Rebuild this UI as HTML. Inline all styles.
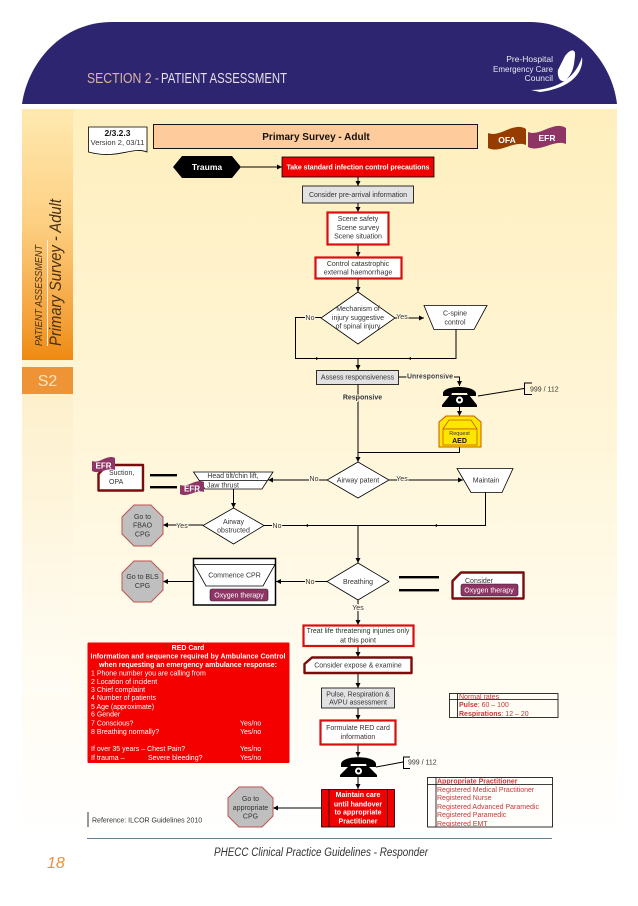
<!DOCTYPE html>
<html>
<head>
<meta charset="utf-8">
<style>
html,body{margin:0;padding:0;background:#fff;}
svg{display:block;}
text{font-family:"Liberation Sans",sans-serif;font-size:7px;fill:#333;}
.m{text-anchor:middle;}
.b{font-weight:bold;}
.w{fill:#fff;}
.k{fill:#111;}
.r{fill:#c8383c;}
.lb{paint-order:stroke;stroke:#fff8e2;stroke-width:2px;fill:#333;text-anchor:middle;}
.ln{fill:none;stroke:#000;stroke-width:1;}
.nd{fill:#fff;stroke:#000;stroke-width:.8;}
.gr{fill:#e2e2e2;stroke:#000;stroke-width:.8;}
.rb{fill:#fff;stroke:#d80f0f;stroke-width:2.2;}
.dr{fill:#fff;stroke:#7a0c0c;stroke-width:2.4;stroke-linejoin:round;}
.oc{fill:#bfbfbf;stroke:#c0504d;stroke-width:1;}
.sk{font-style:italic;}
</style>
</head>
<body>
<svg width="638" height="906" viewBox="0 0 638 906" xmlns="http://www.w3.org/2000/svg">
<defs>
<linearGradient id="bg" x1="0" y1="0" x2="0" y2="1">
<stop offset="0" stop-color="#ffefbe"/>
<stop offset=".45" stop-color="#fff6d9"/>
<stop offset=".8" stop-color="#fffcf2"/>
<stop offset="1" stop-color="#ffffff"/>
</linearGradient>
<linearGradient id="sb" x1="0" y1="0" x2="0" y2="1">
<stop offset="0" stop-color="#ffe9b0"/>
<stop offset=".45" stop-color="#fdd083"/>
<stop offset=".85" stop-color="#f4a038"/>
<stop offset="1" stop-color="#ee8a10"/>
</linearGradient>
<linearGradient id="sb2" x1="0" y1="0" x2="0" y2="1">
<stop offset="0" stop-color="#fdf0cc"/>
<stop offset="1" stop-color="#fffdf6"/>
</linearGradient>
<marker id="a" markerWidth="6" markerHeight="6" refX="5" refY="2.5" orient="auto" markerUnits="userSpaceOnUse">
<path d="M0,0 L5,2.5 L0,5 Z" fill="#000"/>
</marker>
</defs>

<rect width="638" height="906" fill="#fff"/>
<!-- body -->
<rect x="22" y="109" width="595" height="730" fill="url(#bg)"/>
<rect x="22" y="109" width="51" height="251" fill="url(#sb)"/>
<rect x="22" y="394" width="51" height="300" fill="url(#sb2)"/>
<rect x="22" y="367" width="51" height="27" fill="#ee9436"/>
<text x="47.5" y="386" class="m" style="font-size:16px;fill:#fde6c4;">S2</text>

<!-- header -->
<path d="M22,104 C28,62 62,22 112,22 L530,22 C578,22 612,62 617,104 Z" fill="#2e2570"/>
<text x="87" y="83" textLength="72" lengthAdjust="spacingAndGlyphs" style="font-size:15px;fill:#dcb4a8;">SECTION 2 -</text>
<text x="161" y="83" textLength="126" lengthAdjust="spacingAndGlyphs" style="font-size:15px;fill:#e6e0ea;">PATIENT ASSESSMENT</text>
<text x="553" y="62" text-anchor="end" style="font-size:8.5px;fill:#e8e8f0;">Pre-Hospital</text>
<text x="493" y="72" textLength="60" lengthAdjust="spacingAndGlyphs" style="font-size:8.5px;fill:#e8e8f0;">Emergency Care</text>
<text x="553" y="81" text-anchor="end" style="font-size:8.5px;fill:#e8e8f0;">Council</text>
<path d="M531,90 C552,90 574,82 582,57 C584,72 572,88 540,92 Z M565,56 C570,49 576,48 575,56 C574,64 574,72 566,80 C560,84 557,76 558,70 C560,66 562,62 565,56 Z" fill="#fff"/>

<!-- sidebar text -->
<text transform="translate(42,346) rotate(-90)" textLength="101" lengthAdjust="spacingAndGlyphs" style="font-size:10.5px;fill:#4a3010;font-style:italic;">PATIENT ASSESSMENT</text>
<line x1="47.5" y1="240" x2="47.5" y2="346" stroke="#fff4dc" stroke-width="1"/>
<text transform="translate(61,346) rotate(-90)" textLength="147" lengthAdjust="spacingAndGlyphs" style="font-size:17px;fill:#4a3010;font-style:italic;">Primary Survey - Adult</text>

<!-- top row -->
<path d="M88.500,127 H147 V152 C132,146 118,160 88.500,152 Z" class="nd"/>
<text x="117.500" y="136" class="m b k" style="font-size:8.5px;">2/3.2.3</text>
<text x="117.500" y="145" class="m" style="font-size:7.500px;">Version 2, 03/11</text>
<rect x="153.500" y="124.500" width="324" height="24" fill="#fdcb9c" stroke="#000" stroke-width=".9"/>
<text x="316" y="140" class="m b k" style="font-size:10px;">Primary Survey - Adult</text>
<path d="M488,133 C500,138 514,121 526,129 V145 C514,140 500,154 488,148 Z" fill="#963c00"/>
<text x="507" y="143" class="m b w" style="font-size:8.5px;">OFA</text>
<path d="M528,132 C540,137 554,120 566,128 V144 C554,139 540,153 528,147 Z" fill="#8f3565"/>
<text x="547" y="141" class="m b w" style="font-size:8.5px;">EFR</text>

<!-- connectors -->
<g class="ln">
<path d="M241,167 H282" marker-end="url(#a)"/>
<path d="M358,177 V186" marker-end="url(#a)"/>
<path d="M358,203 V212" marker-end="url(#a)"/>
<path d="M358,245 V257" marker-end="url(#a)"/>
<path d="M358,279 V292" marker-end="url(#a)"/>
<path d="M395,318 H424" marker-end="url(#a)"/>
<path d="M321,317.500 H295.500 V358.500 H456 V329"/>
<path d="M358,358.500 V370" marker-end="url(#a)"/>
<path d="M398,377 H459.500 V386" marker-end="url(#a)"/>
<path d="M459.500,407 V416" marker-end="url(#a)"/>
<path d="M478,396 L524,388.500"/>
<path d="M532,383 H524.500 V394.500 H532"/>
<path d="M358,384 V462" marker-end="url(#a)"/>
<path d="M459.500,447 V452.500 H358"/>
<path d="M389,480 H463" marker-end="url(#a)"/>
<path d="M327,480 H268" marker-end="url(#a)"/>
<path d="M233.500,489 V508" marker-end="url(#a)"/>
<path d="M203,525 H163" marker-end="url(#a)"/>
<path d="M264,525.500 H485.500 V492"/>
<path d="M358,525.500 V563" marker-end="url(#a)"/>
<path d="M327,581.500 H276" marker-end="url(#a)"/>
<path d="M193,581.500 H163" marker-end="url(#a)"/>
<path d="M358,600 V625" marker-end="url(#a)"/>
<path d="M358,646 V657" marker-end="url(#a)"/>
<path d="M358,673 V688" marker-end="url(#a)"/>
<path d="M358,708 V720" marker-end="url(#a)"/>
<path d="M358,745 V757" marker-end="url(#a)"/>
<path d="M358,777 V789" marker-end="url(#a)"/>
<path d="M321,808 H273" marker-end="url(#a)"/>
<path d="M376,767 L403,762"/>
<path d="M410,757 H403.500 V768.500 H410"/>
</g>
<path d="M319,358.500 l-3,-1.500 v3z M408,358.500 l3,-1.500 v3z M305,525.500 l3,-1.500 v3z M434,525.500 l3,-1.500 v3z" fill="#000"/>

<!-- nodes top -->
<path d="M173,167 L182,156 H232 L241,167 L232,178 H182 Z" fill="#000"/>
<text x="207" y="170" class="m b w" style="font-size:8.5px;">Trauma</text>
<rect x="282" y="157" width="152" height="20" fill="#f00000" stroke="#000" stroke-width=".8"/>
<text x="358" y="169.500" class="m b w" textLength="143" lengthAdjust="spacing">Take standard infection control precautions</text>
<rect x="302.500" y="186" width="111" height="17" class="gr"/>
<text x="358" y="197" class="m">Consider pre-arrival information</text>
<rect x="327.500" y="212.500" width="61" height="32" class="rb"/>
<text x="358" y="221" class="m">Scene safety</text>
<text x="358" y="230" class="m">Scene survey</text>
<text x="358" y="238.500" class="m">Scene situation</text>
<rect x="315.500" y="257.500" width="86" height="21" class="rb"/>
<text x="358" y="266" class="m">Control catastrophic</text>
<text x="358" y="274.500" class="m">external haemorrhage</text>
<path d="M358,292 L395,318 L358,344 L321,318 Z" class="nd"/>
<text x="358" y="311" class="m">Mechanism of</text>
<text x="358" y="320" class="m">injury suggestive</text>
<text x="358" y="328.500" class="m">of spinal injury</text>
<text x="310" y="320" class="lb">No</text>
<text x="402" y="319" class="lb">Yes</text>
<path d="M424,305.500 H487 L474,329.500 H434 Z" class="nd"/>
<text x="455" y="315.500" class="m">C-spine</text>
<text x="455" y="324.500" class="m">control</text>

<rect x="316.500" y="370.500" width="82" height="14" class="gr"/>
<text x="357.500" y="379.500" class="m">Assess responsiveness</text>
<text x="430" y="378.500" class="lb b" textLength="46" lengthAdjust="spacing">Unresponsive</text>
<text x="362.500" y="399.500" class="m b" style="paint-order:stroke;stroke:#fff8e2;stroke-width:2px;">Responsive</text>
<text x="530" y="391.500">999 / 112</text>

<!-- phone 1 -->
<g id="ph" fill="#000">
<path d="M443,393 C444,385 474,385 476,393 L476,396 L468,396 L467,393 H452 L451,396 H443 Z"/>
<path d="M450,395 H469 L477,405 V407 H442 V405 Z"/>
<circle cx="459.500" cy="400" r="3.500" fill="#fff"/>
<circle cx="459.500" cy="400" r="1.500" fill="#000"/>
</g>

<!-- AED -->
<path d="M446,416 H474 L481,422 V447 H439 V422 Z" fill="#ffe600" stroke="#c85a00" stroke-width="1"/>
<path d="M443,429 L449,420 H471 L477,429 Z" fill="#ffe600" stroke="#c85a00" stroke-width=".8"/>
<rect x="443" y="429" width="34" height="16" fill="#ffe600" stroke="#c85a00" stroke-width=".8"/>
<text x="459.500" y="435" class="m" style="font-size:5.500px;">Request</text>
<text x="459.500" y="443" class="m b k">AED</text>

<!-- airway row -->
<path d="M358,462 L389,480 L358,498 L327,480 Z" class="nd"/>
<text x="358" y="482.500" class="m">Airway patent</text>
<text x="314" y="481" class="lb">No</text>
<text x="402" y="481" class="lb">Yes</text>
<path d="M457,468.500 H513 L502,492.500 H471 Z" class="nd"/>
<text x="486" y="482.500" class="m">Maintain</text>

<path d="M193.500,472 H273 L262,489 H205 Z" class="nd"/>
<line x1="199" y1="480.500" x2="267" y2="480.500" stroke="#000" stroke-width=".8"/>
<text x="233" y="478" class="m">Head tilt/chin lift,</text>
<text x="207" y="487.500">Jaw thrust</text>
<path d="M180,485 C188,488 196,478 204,482 V492 C196,489 188,498 180,494 Z" fill="#8f3565"/>
<text x="192" y="491.500" class="m b w" style="font-size:8px;">EFR</text>

<path d="M107,465 H143 V490.500 H98.500 V474 Z" class="dr"/>
<text x="109" y="475">Suction,</text>
<text x="109" y="484">OPA</text>
<path d="M92,461 C100,464 107,454 115,458 V470 C107,467 100,475 92,471 Z" fill="#8f3565"/>
<text x="103.500" y="468.500" class="m b w" style="font-size:8px;">EFR</text>
<rect x="150" y="474" width="27" height="2.400" fill="#000"/>
<rect x="150" y="486" width="27" height="2.400" fill="#000"/>

<path d="M233.500,508 L264,525.500 L233.500,544 L203,525.500 Z" class="nd"/>
<text x="233.500" y="524" class="m">Airway</text>
<text x="233.500" y="532.500" class="m">obstructed</text>
<text x="277" y="528" class="lb">No</text>
<text x="182" y="528" class="lb">Yes</text>
<path d="M134,505 H151 L163,517 V534 L151,546 H134 L122,534 V517 Z" class="oc"/>
<text x="142.500" y="519" class="m">Go to</text>
<text x="142.500" y="527.500" class="m">FBAO</text>
<text x="142.500" y="536.500" class="m">CPG</text>

<!-- breathing row -->
<path d="M358,563 L389,581.500 L358,600 L327,581.500 Z" class="nd"/>
<text x="358" y="584" class="m">Breathing</text>
<text x="310" y="584" class="lb">No</text>
<text x="358" y="610" class="lb" style="stroke:#fffaec;">Yes</text>
<rect x="399" y="576" width="40" height="2.400" fill="#000"/>
<rect x="399" y="589" width="40" height="2.400" fill="#000"/>
<path d="M461,572.500 H523.500 V598.500 H452.500 V581 Z" class="dr"/>
<text x="465" y="583">Consider</text>
<rect x="461" y="584" width="57" height="12" rx="2" fill="#8f3565" stroke="#222" stroke-width=".6"/>
<text x="489" y="592.500" class="m w">Oxygen therapy</text>

<rect x="193.500" y="558.500" width="82" height="46.500" fill="#fff" stroke="#000" stroke-width="1.500"/>
<path d="M194,564.500 H275 L263,586 H206 Z" class="nd"/>
<text x="234.500" y="577.500" class="m">Commence CPR</text>
<rect x="210" y="589" width="58" height="12" rx="2" fill="#8f3565" stroke="#222" stroke-width=".6"/>
<text x="239" y="597.500" class="m w">Oxygen therapy</text>
<path d="M134,561 H151 L163,573 V590 L151,602 H134 L122,590 V573 Z" class="oc"/>
<text x="142.500" y="579" class="m">Go to BLS</text>
<text x="142.500" y="588" class="m">CPG</text>

<!-- lower column -->
<rect x="303.500" y="625.500" width="110" height="20.500" class="rb"/>
<text x="358" y="633" class="m">Treat life threatening injuries only</text>
<text x="358" y="642.500" class="m">at this point</text>
<path d="M312,657.500 H411.500 V673 H304.500 V664 Z" class="dr"/>
<text x="358" y="667.500" class="m">Consider expose &amp; examine</text>
<rect x="321.500" y="688" width="73" height="20" class="gr"/>
<text x="358" y="696.500" class="m">Pulse, Respiration &amp;</text>
<text x="358" y="704.500" class="m">AVPU assessment</text>
<rect x="320.500" y="720.500" width="75" height="24" class="rb"/>
<text x="358" y="730" class="m">Formulate RED card</text>
<text x="358" y="739" class="m">information</text>
<g fill="#000">
<path d="M341,764 C342,755 375,755 376,764 L376,767 L367,767 L366,764 H351 L350,767 H341 Z"/>
<path d="M349,766 H368 L377,775 V777 H340 V775 Z"/>
<circle cx="358.500" cy="771" r="3.500" fill="#fff"/>
<circle cx="358.500" cy="771" r="1.500" fill="#000"/>
</g>
<text x="408" y="764.500">999 / 112</text>
<rect x="321.500" y="789.500" width="73" height="37.500" fill="#f00000" stroke="#000" stroke-width=".8"/>
<line x1="329" y1="789.500" x2="329" y2="827" stroke="#000" stroke-width=".8"/>
<line x1="387.500" y1="789.500" x2="387.500" y2="827" stroke="#000" stroke-width=".8"/>
<text x="358" y="797" class="m b w">Maintain care</text>
<text x="358" y="806.500" class="m b w">until handover</text>
<text x="358" y="814.500" class="m b w">to appropriate</text>
<text x="358" y="823.500" class="m b w">Practitioner</text>
<path d="M239,787 H262 L273,798 V816 L262,827 H239 L228,816 V798 Z" class="oc"/>
<text x="250.500" y="801" class="m">Go to</text>
<text x="250.500" y="810" class="m">appropriate</text>
<text x="250.500" y="818.500" class="m">CPG</text>

<!-- red card -->
<rect x="87.500" y="642.500" width="202" height="120.500" rx="1" fill="#f50000"/>
<g class="w">
<text x="188" y="650" class="m b w">RED Card</text>
<text x="188" y="658.500" class="m b w" textLength="195" lengthAdjust="spacing">Information and sequence required by Ambulance Control</text>
<text x="188" y="667" class="m b w" textLength="178" lengthAdjust="spacing">when requesting an emergency ambulance response:</text>
<text x="91" y="675.500" class="w">1 Phone number you are calling from</text>
<text x="91" y="684" class="w">2 Location of incident</text>
<text x="91" y="692" class="w">3 Chief complaint</text>
<text x="91" y="700" class="w">4 Number of patients</text>
<text x="91" y="709" class="w">5 Age (approximate)</text>
<text x="91" y="716.500" class="w">6 Gender</text>
<text x="91" y="725.500" class="w">7 Conscious?</text>
<text x="91" y="734" class="w">8 Breathing normally?</text>
<text x="91" y="751" class="w">If over 35 years – Chest Pain?</text>
<text x="91" y="760" class="w">If trauma –</text>
<text x="148" y="760" class="w">Severe bleeding?</text>
<text x="240" y="725.500" class="w">Yes/no</text>
<text x="240" y="734" class="w">Yes/no</text>
<text x="240" y="751" class="w">Yes/no</text>
<text x="240" y="760" class="w">Yes/no</text>
</g>

<!-- reference -->
<line x1="88" y1="812" x2="88" y2="827" stroke="#000" stroke-width=".8"/>
<text x="92" y="822.500">Reference: ILCOR Guidelines 2010</text>

<!-- annotations -->
<rect x="449.500" y="693.500" width="108.500" height="24" fill="#fffdf4" stroke="#000" stroke-width=".8"/>
<line x1="449.500" y1="699.500" x2="558" y2="699.500" stroke="#000" stroke-width=".8"/>
<line x1="457.500" y1="693.500" x2="457.500" y2="717.500" stroke="#000" stroke-width=".8"/>
<text x="459" y="699" class="r">Normal rates</text>
<text x="459" y="707"><tspan class="r b">Pulse</tspan><tspan class="r">: 60 – 100</tspan></text>
<text x="459" y="716"><tspan class="r b">Respirations</tspan><tspan class="r">: 12 – 20</tspan></text>

<rect x="427.500" y="777.500" width="125" height="49.500" fill="#fffefa" stroke="#000" stroke-width=".8"/>
<line x1="427.500" y1="784.500" x2="552.500" y2="784.500" stroke="#000" stroke-width=".8"/>
<line x1="436" y1="777.500" x2="436" y2="827" stroke="#000" stroke-width=".8"/>
<text x="437" y="783.500" class="r b">Appropriate Practitioner</text>
<text x="437" y="792" class="r">Registered Medical Practitioner</text>
<text x="437" y="800" class="r">Registered Nurse</text>
<text x="437" y="809" class="r">Registered Advanced Paramedic</text>
<text x="437" y="817" class="r">Registered Paramedic</text>
<text x="437" y="826" class="r">Registered EMT</text>

<!-- footer -->
<line x1="87" y1="838.500" x2="552" y2="838.500" stroke="#5f7f95" stroke-width=".9"/>
<text x="214" y="856" textLength="214" lengthAdjust="spacingAndGlyphs" style="font-size:11.500px;font-style:italic;fill:#333;">PHECC Clinical Practice Guidelines - Responder</text>
<text x="47" y="868" style="font-size:16px;font-style:italic;fill:#e8913a;">18</text>
</svg>
</body>
</html>
